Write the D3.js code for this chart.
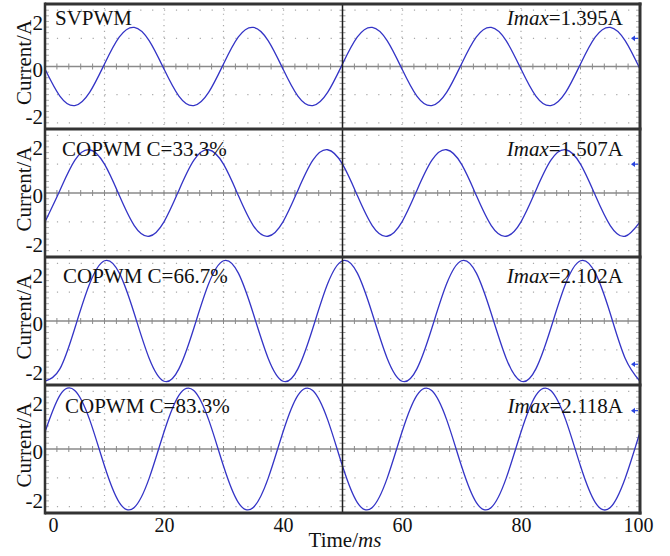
<!DOCTYPE html>
<html>
<head>
<meta charset="utf-8">
<script src="https://cdn.jsdelivr.net/npm/d3@7"></script>
<style>
  body { margin: 0; background: #fff; }
  svg { display: block; }
</style>
</head>
<body>
<svg id="chart" width="670" height="556"></svg>
<script>
// Sample instants of the captured phase current (ms)
const timeMs = [0, 2.5, 5, 7.5, 10, 12.5, 15, 17.5, 20, 22.5, 25, 27.5, 30, 32.5, 35, 37.5,
  40, 42.5, 45, 47.5, 50, 52.5, 55, 57.5, 60, 62.5, 65, 67.5, 70, 72.5, 75, 77.5,
  80, 82.5, 85, 87.5, 90, 92.5, 95, 97.5, 100];

// Phase current (A) for each modulation scheme
const svpwm = [-0.09, -1.05, -1.39, -0.92, 0.09, 1.05, 1.39, 0.92,
  -0.09, -1.05, -1.39, -0.92, 0.09, 1.05, 1.39, 0.92,
  -0.09, -1.05, -1.39, -0.92, 0.09, 1.05, 1.39, 0.92,
  -0.09, -1.05, -1.39, -0.92, 0.09, 1.05, 1.39, 0.92,
  -0.09, -1.05, -1.39, -0.92, 0.09, 1.05, 1.39, 0.92, -0.09];
const copwm333 = [-1.00, 0.09, 1.13, 1.50, 1.00, -0.09, -1.13, -1.50,
  -1.00, 0.09, 1.13, 1.50, 1.00, -0.09, -1.13, -1.50,
  -1.00, 0.09, 1.13, 1.50, 1.00, -0.09, -1.13, -1.50,
  -1.00, 0.09, 1.13, 1.50, 1.00, -0.09, -1.13, -1.50,
  -1.00, 0.09, 1.13, 1.50, 1.00, -0.09, -1.13, -1.50, -1.00];
const copwm667 = [-2.09, -1.66, -0.26, 1.29, 2.09, 1.66, 0.26, -1.29,
  -2.09, -1.66, -0.26, 1.29, 2.09, 1.66, 0.26, -1.29,
  -2.09, -1.66, -0.26, 1.29, 2.09, 1.66, 0.26, -1.29,
  -2.09, -1.66, -0.26, 1.29, 2.09, 1.66, 0.26, -1.29,
  -2.09, -1.66, -0.26, 1.29, 2.09, 1.66, 0.26, -1.29, -2.09];
const copwm833 = [0.59, 1.86, 2.03, 1.02, -0.59, -1.86, -2.03, -1.02,
  0.59, 1.86, 2.03, 1.02, -0.59, -1.86, -2.03, -1.02,
  0.59, 1.86, 2.03, 1.02, -0.59, -1.86, -2.03, -1.02,
  0.59, 1.86, 2.03, 1.02, -0.59, -1.86, -2.03, -1.02,
  0.59, 1.86, 2.03, 1.02, -0.59, -1.86, -2.03, -1.02, 0.59];

const schemeNames = ["SVPWM", "COPWM C=33.3%", "COPWM C=66.7%", "COPWM C=83.3%"];
const imaxValues = ["1.395", "1.507", "2.102", "2.118"];
const markerLevels = [1.0, 1.0, -1.5, 1.33];
const seriesList = [svpwm, copwm333, copwm667, copwm833];

const xTickValues = [0, 20, 40, 60, 80, 100];
const yTickValues = [2, 0, -2];

// ---- layout ----
const FONT = '"Liberation Serif", "Times New Roman", Times, serif';
const svg = d3.select("#chart");
const left = 45, right = 640;
const bounds = [4, 129, 257, 385, 513];
const nameX = [55, 62, 63, 65];
const textDy = [21, 27, 26, 28];

const x = d3.scaleLinear().domain([0, 100]).range([left, right]);

const gridColor = "#a8a8a8";
const traceColor = "#3434c6";

const defs = svg.append("defs");

seriesList.forEach((series, i) => {
  const top = bounds[i], bottom = bounds[i + 1];
  const y = d3.scaleLinear().domain([-2.22, 2.22]).range([bottom, top]);
  const yLab = d3.scaleLinear().domain([-2.65, 2.65]).range([bottom + 3, top + 3]);
  const g = svg.append("g").attr("class", "panel");

  defs.append("clipPath").attr("id", "clip" + i)
    .append("rect").attr("x", left).attr("y", top)
    .attr("width", right - left).attr("height", bottom - top);

  // dotted graticule: vertical divisions every 10 ms, horizontal every 1 A
  const vDiv = [10, 20, 30, 40, 60, 70, 80, 90];
  [top, bottom].forEach(end => {
    g.append("g").selectAll("line").data(vDiv).enter()
      .append("line")
      .attr("x1", d => x(d)).attr("x2", d => x(d))
      .attr("y1", y(0)).attr("y2", end)
      .attr("stroke", gridColor).attr("stroke-width", 1.2)
      .attr("stroke-dasharray", "1.2,4.54");
  });
  g.append("g").selectAll("line").data([-2, -1, 1, 2]).enter()
    .append("line")
    .attr("x1", left).attr("x2", right)
    .attr("y1", d => y(d)).attr("y2", d => y(d))
    .attr("stroke", gridColor).attr("stroke-width", 1.2)
    .attr("stroke-dasharray", "1.2,10.7");

  // zero line with minor ticks every 2 ms
  g.append("line")
    .attr("x1", left).attr("x2", right)
    .attr("y1", y(0)).attr("y2", y(0))
    .attr("stroke", "#8a8a8a").attr("stroke-width", 1.6);
  g.append("g").selectAll("line").data(d3.range(2, 100, 2)).enter()
    .append("line")
    .attr("x1", d => x(d)).attr("x2", d => x(d))
    .attr("y1", y(0) - 3).attr("y2", y(0) + 3)
    .attr("stroke", "#8a8a8a").attr("stroke-width", 1);

  // minor ticks on the centre line and on the side edges, every 0.2 A
  const minorA = d3.range(-2.2, 2.21, 0.2).filter(v => Math.abs(v) > 0.05);
  const tickRows = [[x(50) - 3, x(50) + 3, "#9a9a9a"], [left, left + 4, "#b0b0b0"], [right - 4, right, "#b0b0b0"]];
  tickRows.forEach(([x1, x2, c]) => {
    g.append("g").selectAll("line").data(minorA).enter()
      .append("line")
      .attr("x1", x1).attr("x2", x2)
      .attr("y1", d => y(d)).attr("y2", d => y(d))
      .attr("stroke", c).attr("stroke-width", 1);
  });

  // current trace
  const line = d3.line()
    .x((d, k) => x(timeMs[k]))
    .y(d => y(d))
    .curve(d3.curveNatural);
  g.append("path")
    .datum(series)
    .attr("clip-path", "url(#clip" + i + ")")
    .attr("d", line)
    .attr("fill", "none")
    .attr("stroke", traceColor)
    .attr("stroke-width", 1.3)
    .attr("stroke-linejoin", "round");

  // level marker on the right edge
  const my = y(markerLevels[i]);
  g.append("path")
    .attr("d", `M${right - 9},${my} L${right - 5},${my - 2.8} L${right - 5},${my + 2.8} Z`)
    .attr("fill", "#2a45e0");
  g.append("line")
    .attr("x1", right - 6).attr("x2", right - 2)
    .attr("y1", my).attr("y2", my)
    .attr("stroke", "#2a45e0").attr("stroke-width", 1.2);

  // y tick labels
  const yAxis = d3.axisLeft(yLab)
    .tickValues(yTickValues)
    .tickSize(0).tickPadding(0)
    .tickFormat(d => String(d));
  const ya = svg.append("g")
    .attr("transform", `translate(43,0)`)
    .call(yAxis);
  ya.select(".domain").remove();
  ya.selectAll("text")
    .style("font-family", FONT)
    .style("font-size", "21px")
    .attr("fill", "#111");

  // axis title
  svg.append("text")
    .attr("transform", `translate(31,${(top + bottom) / 2 - 4}) rotate(-90)`)
    .attr("text-anchor", "middle")
    .style("font-family", FONT).style("font-size", "21px")
    .attr("fill", "#111")
    .text("Current/A");

  // scheme name and peak current
  svg.append("text")
    .attr("x", nameX[i]).attr("y", top + textDy[i])
    .style("font-family", FONT).style("font-size", "21px")
    .attr("fill", "#111")
    .text(schemeNames[i]);
  const imax = svg.append("text")
    .attr("x", 623).attr("y", top + textDy[i])
    .attr("text-anchor", "end")
    .style("font-family", FONT).style("font-size", "21px")
    .attr("fill", "#111");
  imax.append("tspan").style("font-style", "italic").text("Imax");
  imax.append("tspan").text("=" + imaxValues[i] + "A");
});

// centre vertical line across all panels
svg.append("line")
  .attr("x1", x(50)).attr("x2", x(50))
  .attr("y1", bounds[0]).attr("y2", bounds[4])
  .attr("stroke", "#1e1e1e").attr("stroke-width", 1.5);

// frame and panel separators
const frame = svg.append("g").attr("stroke", "#333").attr("stroke-width", 3).attr("fill", "none");
frame.selectAll("line.sep").data(bounds).enter()
  .append("line").attr("class", "sep")
  .attr("x1", left).attr("x2", right + 1.5)
  .attr("y1", d => d).attr("y2", d => d);
frame.append("line").attr("x1", left).attr("x2", left)
  .attr("y1", bounds[0] - 1.5).attr("y2", bounds[4] + 1.5).attr("stroke-width", 2.5);
frame.append("line").attr("x1", right).attr("x2", right)
  .attr("y1", bounds[0] - 1.5).attr("y2", bounds[4] + 1.5);

// time axis
const xAxis = d3.axisBottom(x)
  .tickValues(xTickValues)
  .tickSize(0).tickPadding(5)
  .tickFormat(d => String(d));
const xa = svg.append("g")
  .attr("transform", `translate(0,${bounds[4]})`)
  .call(xAxis);
xa.select(".domain").remove();
xa.selectAll("text")
  .style("font-family", FONT)
  .style("font-size", "20px")
  .attr("fill", "#111")
  .attr("dx", d => d === 0 ? 8 : (d === 100 ? -2 : 0));

const xt = svg.append("text")
  .attr("x", 345).attr("y", 547)
  .attr("text-anchor", "middle")
  .style("font-family", FONT).style("font-size", "21px")
  .attr("fill", "#111");
xt.append("tspan").text("Time/");
xt.append("tspan").style("font-style", "italic").text("ms");
</script>
</body>
</html>
